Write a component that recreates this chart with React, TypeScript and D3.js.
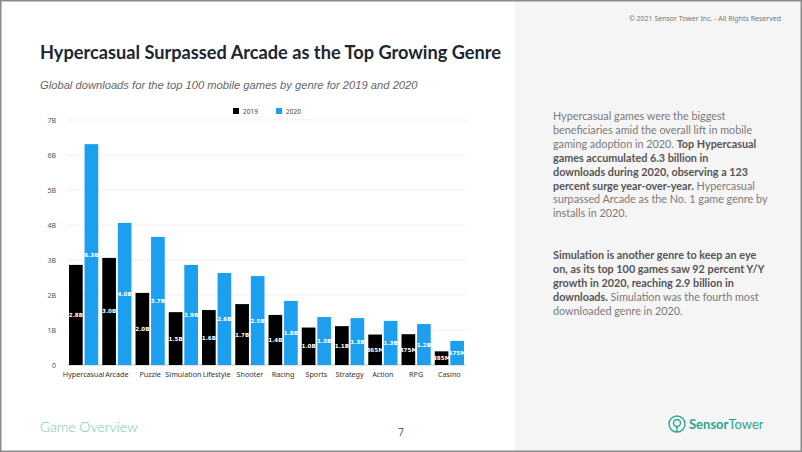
import * as d3 from "d3";

// ── Data ──────────────────────────────────────────────────────────────────────

const GENRES = ["Hypercasual", "Arcade", "Puzzle", "Simulation", "Lifestyle", "Shooter", "Racing", "Sports", "Strategy", "Action", "RPG", "Casino"];
const D2019 = [2.86, 3.06, 2.06, 1.51, 1.57, 1.74, 1.43, 1.07, 1.11, 0.87, 0.88, 0.39];
const D2020 = [6.31, 4.06, 3.66, 2.86, 2.63, 2.54, 1.83, 1.37, 1.34, 1.26, 1.17, 0.69];
const L2019 = ["2.8B", "3.0B", "2.0B", "1.5B", "1.6B", "1.7B", "1.4B", "1.0B", "1.1B", "865M", "875M", "385M"];
const L2020 = ["6.3B", "4.0B", "3.7B", "2.9B", "2.6B", "2.5B", "1.8B", "1.3B", "1.3B", "1.3B", "1.2B", "675M"];
const Y_TICKS = [0, 1, 2, 3, 4, 5, 6, 7];
const SERIES = ["2019", "2020"];

// ── Tokens ────────────────────────────────────────────────────────────────────

const BLACK = "#000000";
const BLUE = "#1d9ff0";
const TEAL = "#2aa58e";
const SANS = "'Noto Sans', 'Open Sans', sans-serif";
const BODY = "Lato, 'Noto Sans', sans-serif";

const P1 = [
  [{ t: "Hypercasual games were the biggest", b: false }],
  [{ t: "beneficiaries amid the overall lift in mobile", b: false }],
  [{ t: "gaming adoption in 2020. ", b: false }, { t: "Top Hypercasual", b: true }],
  [{ t: "games accumulated 6.3 billion in", b: true }],
  [{ t: "downloads during 2020, observing a 123", b: true }],
  [{ t: "percent surge year-over-year.", b: true }, { t: " Hypercasual", b: false }],
  [{ t: "surpassed Arcade as the No. 1 game genre by", b: false }],
  [{ t: "installs in 2020.", b: false }],
];
const P2 = [
  [{ t: "Simulation is another genre to keep an eye", b: true }],
  [{ t: "on, as its top 100 games saw 92 percent Y/Y", b: true }],
  [{ t: "growth in 2020, reaching 2.9 billion in", b: true }],
  [{ t: "downloads.", b: true }, { t: " Simulation was the fourth most", b: false }],
  [{ t: "downloaded genre in 2020.", b: false }],
];

export default function App() {
  const W = 802, H = 452;
  const m = { left: 67, right: 466, top: 120, bottom: 365 };

  const x = d3.scaleBand().domain(GENRES).range([m.left, m.right]).paddingInner(0).paddingOuter(0);
  const x1 = d3.scaleBand().domain(SERIES).range([0, x.bandwidth()]).paddingInner(0.12).paddingOuter(0.13);
  const y = d3.scaleLinear().domain([0, 7]).range([m.bottom, m.top]);

  const bars = GENRES.flatMap((g, i) => [
    { g, s: "2019", v: D2019[i], lbl: L2019[i], fill: BLACK },
    { g, s: "2020", v: D2020[i], lbl: L2020[i], fill: BLUE },
  ]);

  const para = (lines: { t: string; b: boolean }[][], y0: number) =>
    lines.map((line, i) => (
      <text key={i} x={553} y={y0 + i * 13.9} fontFamily={BODY} fontSize={10.8} fill="#7a7a7a">
        {line.map((s, j) => (
          <tspan key={j} fontWeight={s.b ? 700 : 400} fill={s.b ? "#555" : "#7a7a7a"}>{s.t}</tspan>
        ))}
      </text>
    ));

  return (
    <svg width={W} height={H} style={{ position: "absolute", left: 0, top: 0 }} fontFamily={SANS}>
      <rect x={0} y={0} width={W} height={H} fill="#fff" />
      <rect x={515} y={0} width={W - 515} height={H} fill="#f5f5f5" />

      <text x={781} y={21} textAnchor="end" fontSize={7} fill="#777">© 2021 Sensor Tower Inc. - All Rights Reserved</text>

      {/* Titles */}
      <text x={40} y={59} fontSize={18.2} fontWeight={700} fill="#1b2631" fontFamily={BODY}>
        Hypercasual Surpassed Arcade as the Top Growing Genre
      </text>
      <text x={40} y={89} fontSize={11.2} fontStyle="italic" fill="#666" fontFamily="'Liberation Sans', Arial, sans-serif">
        Global downloads for the top 100 mobile games by genre for 2019 and 2020
      </text>

      {/* Legend */}
      {SERIES.map((s, i) => (
        <g key={s} transform={`translate(${233 + i * 43},108)`}>
          <rect x={0} y={0} width={6} height={6} fill={i === 0 ? BLACK : BLUE} />
          <text x={10} y={5.5} fontSize={6.5} fill="#444">{s}</text>
        </g>
      ))}

      {/* Grid + y axis */}
      {Y_TICKS.map(t => (
        <g key={t}>
          <line x1={m.left} x2={m.right} y1={y(t)} y2={y(t)}
            stroke={t === 0 ? "#c8c8c8" : "#e2e2e2"} strokeDasharray={t === 0 ? undefined : "1,1"} />
          <text x={56} y={y(t) + 2.5} textAnchor="end" fontSize={7} fill="#555">{t === 0 ? "0" : `${t}B`}</text>
        </g>
      ))}

      {/* Bars */}
      {bars.map(d => {
        const bx = x(d.g)! + x1(d.s)!;
        const by = y(d.v);
        const bh = y(0) - by;
        return (
          <g key={d.g + d.s}>
            <rect x={bx} y={by} width={x1.bandwidth()} height={bh} fill={d.fill} />
            <text x={bx + x1.bandwidth() / 2} y={by + bh / 2 + 2} textAnchor="middle"
              fontSize={5.6} fontWeight={700} fill="#fff" fontFamily="'DejaVu Sans', sans-serif">{d.lbl}</text>
          </g>
        );
      })}

      {/* X labels */}
      {GENRES.map(g => (
        <text key={g} x={x(g)! + x.bandwidth() / 2} y={377} textAnchor="middle" fontSize={7.2} fill="#333">{g}</text>
      ))}

      {/* Right panel */}
      {para(P1, 120)}
      {para(P2, 259)}

      {/* Footer */}
      <text x={40} y={432} fontSize={14} fill="#74c7b8" fontFamily={BODY} fontWeight={300}>Game Overview</text>
      <text x={401} y={436} fontSize={10} fill="#555" textAnchor="middle">7</text>
      <g transform="translate(677,424)" stroke={TEAL} fill="none" strokeWidth={1.4}>
        <circle cx={0} cy={0} r={8} />
        <circle cx={0} cy={-1} r={3.5} />
        <line x1={0} y1={2.5} x2={0} y2={8} />
      </g>
      <text x={689} y={429} fontSize={13} fontFamily={BODY} fill={TEAL}>
        <tspan fontWeight={700}>Sensor</tspan><tspan fontWeight={400}>Tower</tspan>
      </text>

      <rect x={0.75} y={0.75} width={W - 1.5} height={H - 1.5} fill="none" stroke="#8a8a8a" strokeWidth={1.5} />
    </svg>
  );
}
